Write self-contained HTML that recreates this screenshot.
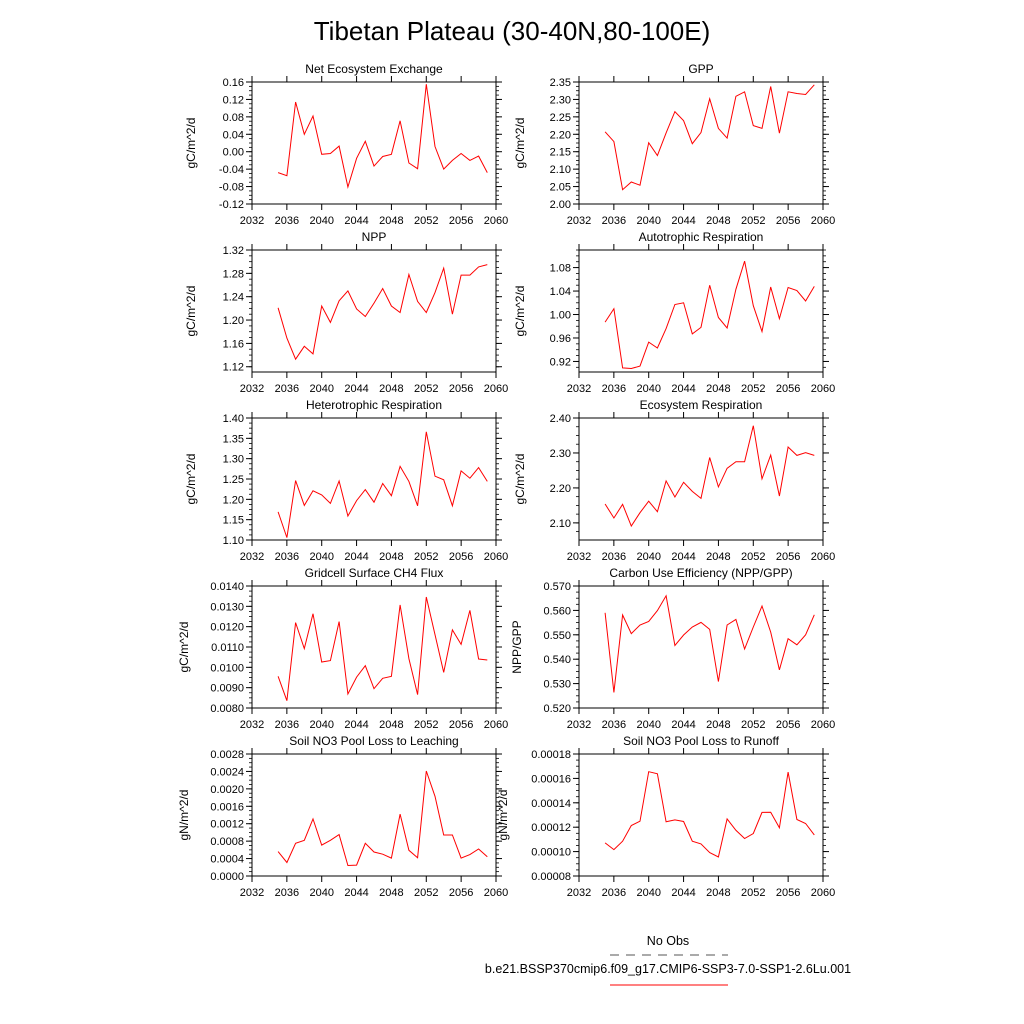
<!DOCTYPE html>
<html><head><meta charset="utf-8">
<style>
body{margin:0;background:#fff;}
svg{display:block;font-family:"Liberation Sans",sans-serif;}
</style></head>
<body>
<svg id="chart" width="1024" height="1024" viewBox="0 0 1024 1024">
<rect width="1024" height="1024" fill="#fff"/>
<text x="512" y="40" font-size="26" text-anchor="middle">Tibetan Plateau (30-40N,80-100E)</text>
<g id="panels"></g>
<g>
<text x="668" y="945" font-size="12.5" text-anchor="middle">No Obs</text>
<line x1="610" y1="955" x2="728" y2="955" stroke="#555" stroke-width="1" stroke-dasharray="9,7"/>
<text x="668" y="973" font-size="12.5" text-anchor="middle">b.e21.BSSP370cmip6.f09_g17.CMIP6-SSP3-7.0-SSP1-2.6Lu.001</text>
<line x1="610" y1="985" x2="728" y2="985" stroke="#f00" stroke-width="1"/>
</g>
</svg>
<script>
const years = [2035,2036,2037,2038,2039,2040,2041,2042,2043,2044,2045,2046,2047,2048,2049,2050,2051,2052,2053,2054,2055,2056,2057,2058,2059];
const xTicks = [2032,2036,2040,2044,2048,2052,2056,2060];
const neeValues = [-0.048,-0.055,0.114,0.04,0.082,-0.006,-0.004,0.013,-0.081,-0.015,0.024,-0.033,-0.011,-0.006,0.071,-0.026,-0.039,0.155,0.012,-0.04,-0.02,-0.004,-0.02,-0.01,-0.048];
const gppValues = [2.207,2.179,2.041,2.063,2.054,2.176,2.139,2.204,2.265,2.239,2.173,2.205,2.302,2.217,2.189,2.309,2.322,2.225,2.217,2.337,2.203,2.322,2.317,2.314,2.342];
const nppValues = [1.221,1.169,1.133,1.155,1.142,1.224,1.196,1.233,1.250,1.219,1.206,1.229,1.254,1.224,1.213,1.278,1.232,1.213,1.247,1.289,1.210,1.277,1.277,1.291,1.295];
const arValues = [0.987,1.010,0.909,0.908,0.912,0.953,0.943,0.976,1.017,1.020,0.967,0.978,1.050,0.995,0.977,1.043,1.091,1.015,0.971,1.047,0.993,1.046,1.041,1.023,1.048];
const hrValues = [1.169,1.106,1.246,1.185,1.221,1.211,1.190,1.245,1.159,1.197,1.224,1.193,1.239,1.209,1.281,1.244,1.184,1.366,1.257,1.248,1.184,1.270,1.252,1.278,1.244];
const erValues = [2.154,2.114,2.153,2.091,2.129,2.162,2.132,2.220,2.174,2.216,2.190,2.170,2.287,2.203,2.256,2.275,2.275,2.378,2.226,2.294,2.177,2.317,2.293,2.301,2.293];
const ch4Values = [0.00956,0.00836,0.01220,0.01092,0.01264,0.01026,0.01033,0.01225,0.00869,0.00952,0.01008,0.00895,0.00946,0.00956,0.01307,0.01043,0.00866,0.01346,0.01161,0.00975,0.01184,0.01113,0.01280,0.01041,0.01036];
const cueValues = [0.5590,0.5264,0.5581,0.5505,0.5540,0.5555,0.5599,0.5660,0.5456,0.5499,0.5532,0.5551,0.5522,0.5308,0.5540,0.5563,0.5442,0.5532,0.5618,0.5511,0.5356,0.5484,0.5459,0.5500,0.5582];
const leachValues = [0.00056,0.00031,0.00075,0.00082,0.00131,0.00071,0.00082,0.00095,0.00024,0.00025,0.00075,0.00055,0.00050,0.00041,0.00142,0.00059,0.00042,0.00241,0.00183,0.00094,0.00094,0.00041,0.00049,0.00062,0.00044];
const runoffValues = [0.0001071,0.0001016,0.0001085,0.0001214,0.0001249,0.0001655,0.0001638,0.0001244,0.0001260,0.0001247,0.0001085,0.0001063,0.0000992,0.0000956,0.0001268,0.0001175,0.0001107,0.0001148,0.0001321,0.0001323,0.0001195,0.0001652,0.0001263,0.0001230,0.0001137];
const neeTicks = ["-0.12","-0.08","-0.04","0.00","0.04","0.08","0.12","0.16"];
const gppTicks = ["2.00","2.05","2.10","2.15","2.20","2.25","2.30","2.35"];
const nppTicks = ["1.12","1.16","1.20","1.24","1.28","1.32"];
const arTicks = ["0.92","0.96","1.00","1.04","1.08"];
const hrTicks = ["1.10","1.15","1.20","1.25","1.30","1.35","1.40"];
const erTicks = ["2.10","2.20","2.30","2.40"];
const ch4Ticks = ["0.0080","0.0090","0.0100","0.0110","0.0120","0.0130","0.0140"];
const cueTicks = ["0.520","0.530","0.540","0.550","0.560","0.570"];
const leachTicks = ["0.0000","0.0004","0.0008","0.0012","0.0016","0.0020","0.0024","0.0028"];
const runoffTicks = ["0.00008","0.00010","0.00012","0.00014","0.00016","0.00018"];

const NS='http://www.w3.org/2000/svg';
const root=document.getElementById('panels');
function el(tag,attrs,parent){const e=document.createElementNS(NS,tag);for(const k in attrs)e.setAttribute(k,attrs[k]);parent.appendChild(e);return e;}

const panels=[
 {key:'nee',title:'Net Ecosystem Exchange',ylab:'gC/m^2/d',vals:neeValues,ticks:neeTicks,ymin:-0.12,ymax:0.16,col:0,row:0,labx:195},
 {key:'gpp',title:'GPP',ylab:'gC/m^2/d',vals:gppValues,ticks:gppTicks,ymin:2.00,ymax:2.35,col:1,row:0,labx:524},
 {key:'npp',title:'NPP',ylab:'gC/m^2/d',vals:nppValues,ticks:nppTicks,ymin:1.111,ymax:1.32,col:0,row:1,labx:195},
 {key:'ar',title:'Autotrophic Respiration',ylab:'gC/m^2/d',vals:arValues,ticks:arTicks,ymin:0.902,ymax:1.110,col:1,row:1,labx:524},
 {key:'hr',title:'Heterotrophic Respiration',ylab:'gC/m^2/d',vals:hrValues,ticks:hrTicks,ymin:1.10,ymax:1.40,col:0,row:2,labx:195},
 {key:'er',title:'Ecosystem Respiration',ylab:'gC/m^2/d',vals:erValues,ticks:erTicks,ymin:2.051,ymax:2.40,col:1,row:2,labx:524},
 {key:'ch4',title:'Gridcell Surface CH4 Flux',ylab:'gC/m^2/d',vals:ch4Values,ticks:ch4Ticks,ymin:0.008,ymax:0.014,col:0,row:3,labx:188},
 {key:'cue',title:'Carbon Use Efficiency (NPP/GPP)',ylab:'NPP/GPP',vals:cueValues,ticks:cueTicks,ymin:0.52,ymax:0.57,col:1,row:3,labx:521},
 {key:'leach',title:'Soil NO3 Pool Loss to Leaching',ylab:'gN/m^2/d',vals:leachValues,ticks:leachTicks,ymin:0,ymax:0.0028,col:0,row:4,labx:188},
 {key:'runoff',title:'Soil NO3 Pool Loss to Runoff',ylab:'gN/m^2/d',vals:runoffValues,ticks:runoffTicks,ymin:0.00008,ymax:0.00018,col:1,row:4,labx:507}
];
const W=244,H=122;
panels.forEach(p=>{
 const x0=p.col?579:252, y0=82+p.row*168;
 const g=el('g',{},root);
 
 
 const xs=v=>x0+(v-2032)/28*W;
 const ys=v=>y0+H-(v-p.ymin)/(p.ymax-p.ymin)*H;
 // x ticks
 xTicks.forEach(t=>{
  const x=xs(t);
  el('line',{x1:x,y1:y0+H,x2:x,y2:y0+H+6,stroke:'#000','stroke-width':1},g);
  el('line',{x1:x,y1:y0,x2:x,y2:y0-6,stroke:'#000','stroke-width':1},g);
  const tl=el('text',{x:x,y:y0+H+20,'font-size':11,'text-anchor':'middle'},g);
  
  
  tl.textContent=t;
 });
 // y ticks
 const tv=p.ticks.map(Number);
 const step=tv.length>1?tv[1]-tv[0]:1;
 for(let v=tv[0]-step;v<=p.ymax+1e-12;v+=step/4){
  if(v<p.ymin-1e-12)continue;
  const y=ys(v);
  el('line',{x1:x0,y1:y,x2:x0-3,y2:y,stroke:'#000','stroke-width':0.8},g);
  el('line',{x1:x0+W,y1:y,x2:x0+W+3,y2:y,stroke:'#000','stroke-width':0.8},g);
 }
 p.ticks.forEach(t=>{
  const y=ys(Number(t));
  el('line',{x1:x0,y1:y,x2:x0-6,y2:y,stroke:'#000','stroke-width':1},g);
  el('line',{x1:x0+W,y1:y,x2:x0+W+6,y2:y,stroke:'#000','stroke-width':1},g);
  const tl=el('text',{x:x0-8,y:y+4,'font-size':11,'text-anchor':'end'},g);
  
  
  tl.textContent=t;
 });
 const box=el('rect',{x:x0,y:y0,width:W,height:H,fill:'none',stroke:'#000','stroke-width':1},g);
 
 
 const pts=p.vals.map((v,i)=>xs(years[i]).toFixed(1)+','+ys(v).toFixed(1)).join(' ');
 const line=el('polyline',{points:pts,fill:'none',stroke:'#f00','stroke-width':1},g);
 
 
 const tt=el('text',{x:x0+W/2,y:y0-9,'font-size':12,'text-anchor':'middle'},g);
 
 
 tt.textContent=p.title;
 const yl=el('text',{x:p.labx,y:y0+H/2,'font-size':12,'text-anchor':'middle',transform:'rotate(-90 '+p.labx+' '+(y0+H/2)+')'},g);
 
 
 yl.textContent=p.ylab;
});
</script>
</body></html>
